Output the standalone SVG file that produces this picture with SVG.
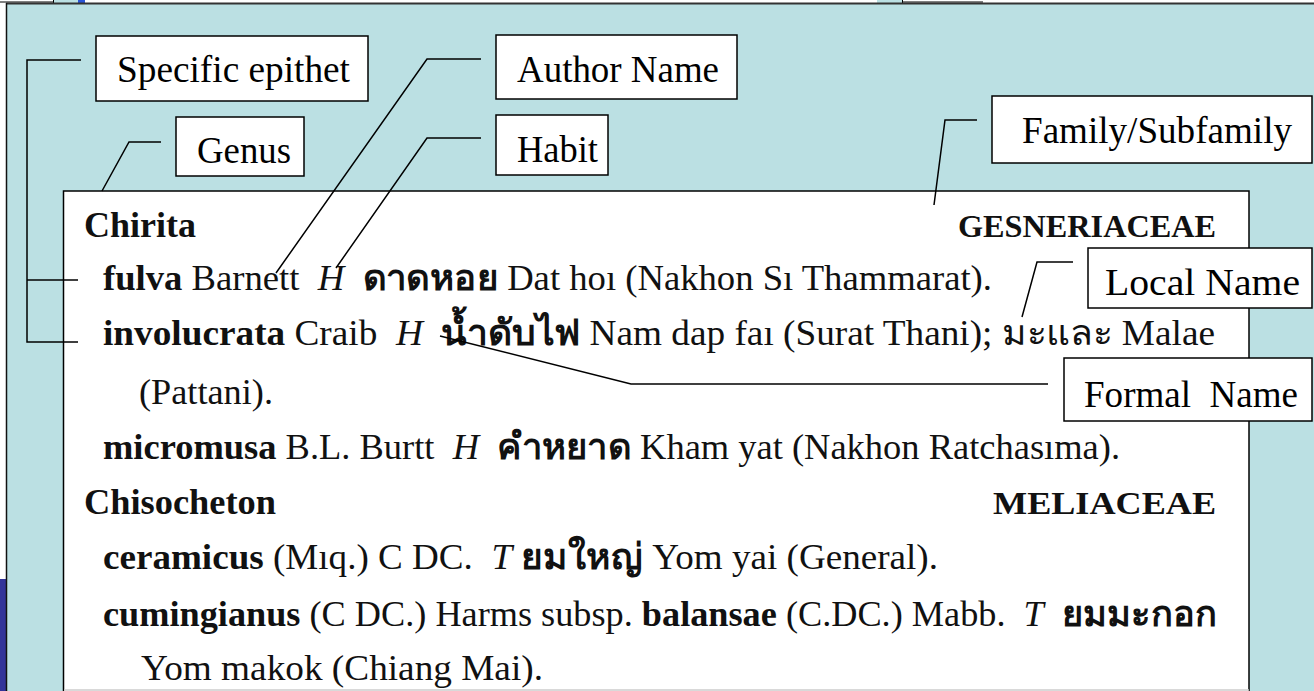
<svg xmlns="http://www.w3.org/2000/svg" width="1314" height="691" viewBox="0 0 1314 691">
  <defs>
    <style>
      .label-box { fill: #ffffff; stroke: #000000; stroke-width: 1.5; }
      .label { font-family: "Liberation Serif", "DejaVu Serif", serif; font-size: 38px; fill: #000000; }
      .body { font-family: "Liberation Serif", "DejaVu Serif", serif; font-size: 36px; fill: #111111; white-space: pre; }
      .fam { font-family: "Liberation Serif", "DejaVu Serif", serif; font-size: 32px; font-weight: bold; fill: #111111; }
      .b { font-weight: bold; }
      .i { font-style: italic; }
      .th { font-weight: bold; }
      .leader { fill: none; stroke: #000000; stroke-width: 1.5; }
    </style>
  </defs>

  <!-- page background and slide frame -->
  <rect x="0" y="0" width="1314" height="691" fill="#ffffff"/>
  <rect x="6" y="3" width="1308" height="688" fill="#bbe0e3"/>
  <rect x="0" y="579" width="6" height="112" fill="#333399"/>
  <!-- strip of window chrome along the top -->
  <rect x="54" y="0" width="24" height="3" fill="#bbe0e3"/>
  <rect x="78" y="0" width="7" height="3" fill="#2a55d8"/>
  <line x1="0" y1="2" x2="53" y2="2" stroke="#000" stroke-width="1"/>
  <line x1="53.5" y1="0" x2="53.5" y2="3" stroke="#000" stroke-width="1"/>
  <rect x="877" y="0" width="25" height="3" fill="#bbe0e3"/>
  <line x1="902.5" y1="0" x2="902.5" y2="3" stroke="#000" stroke-width="1"/>
  <line x1="903" y1="2" x2="983" y2="2" stroke="#000" stroke-width="1"/>
  <line x1="6" y1="3.5" x2="1314" y2="3.5" stroke="#333333" stroke-width="2"/>
  <line x1="6.5" y1="3" x2="6.5" y2="691" stroke="#111111" stroke-width="1.5"/>

  <!-- scanned checklist page -->
  <g id="page">
    <rect x="63.5" y="191" width="1185.5" height="510" fill="#ffffff" stroke="#000000" stroke-width="1.5"/>
    <line x1="64" y1="690" x2="1249" y2="690" stroke="#cccccc" stroke-width="1.5"/>
    <text class="body b" x="84" y="237" textLength="112" lengthAdjust="spacingAndGlyphs">Chirita</text>
    <text class="fam" x="958" y="237" textLength="258" lengthAdjust="spacingAndGlyphs">GESNERIACEAE</text>
    <text class="body" x="103" y="290" textLength="889" lengthAdjust="spacingAndGlyphs"><tspan class="b">fulva</tspan> Barnett  <tspan class="i">H</tspan>  <tspan class="th">ดาดหอย</tspan> Dat hoı (Nakhon Sı Thammarat).</text>
    <text class="body" x="103" y="345" textLength="1112" lengthAdjust="spacingAndGlyphs"><tspan class="b">involucrata</tspan> Craib  <tspan class="i">H</tspan>  <tspan class="th">น้ำดับไฟ</tspan> Nam dap faı (Surat Thani); มะและ Malae</text>
    <text class="body" x="139" y="404" textLength="134" lengthAdjust="spacingAndGlyphs">(Pattani).</text>
    <text class="body" x="103" y="459" textLength="1017" lengthAdjust="spacingAndGlyphs"><tspan class="b">micromusa</tspan> B.L. Burtt  <tspan class="i">H</tspan>  <tspan class="th">คำหยาด</tspan> Kham yat (Nakhon Ratchasıma).</text>
    <text class="body b" x="84" y="514" textLength="192" lengthAdjust="spacingAndGlyphs">Chisocheton</text>
    <text class="fam" x="993" y="514" textLength="223" lengthAdjust="spacingAndGlyphs">MELIACEAE</text>
    <text class="body" x="103" y="569" textLength="835" lengthAdjust="spacingAndGlyphs"><tspan class="b">ceramicus</tspan> (Mıq.) C DC.  <tspan class="i">T</tspan> <tspan class="th">ยมใหญ่</tspan> Yom yai (General).</text>
    <text class="body" x="103" y="626" textLength="1114" lengthAdjust="spacingAndGlyphs"><tspan class="b">cumingianus</tspan> (C DC.) Harms subsp. <tspan class="b">balansae</tspan> (C.DC.) Mabb.  <tspan class="i">T</tspan>  <tspan class="th">ยมมะกอก</tspan></text>
    <text class="body" x="141" y="680" textLength="402" lengthAdjust="spacingAndGlyphs">Yom makok (Chiang Mai).</text>
  </g>

  <!-- callout leader lines -->
  <g id="connectors">
    <polyline class="leader" points="81,60 27,60 27,342 78,342"/>
    <line class="leader" x1="27" y1="280" x2="78" y2="280"/>
    <polyline class="leader" points="481,59 427,59 276,273"/>
    <polyline class="leader" points="481,138 427,138 336,268"/>
    <polyline class="leader" points="161,142 129,142 102,191"/>
    <polyline class="leader" points="977,120 945,120 934,205"/>
    <polyline class="leader" points="1073,262 1037,262 1022,317"/>
    <polyline class="leader" points="440,336 631,384 1048,384"/>
  </g>

  <!-- callout labels -->
  <g id="specific-epithet">
    <rect class="label-box" x="96" y="36" width="272" height="65"/>
    <text class="label" x="117" y="82" textLength="233" lengthAdjust="spacingAndGlyphs">Specific epithet</text>
  </g>
  <g id="author-name">
    <rect class="label-box" x="496" y="35" width="241" height="64"/>
    <text class="label" x="517" y="82" textLength="202" lengthAdjust="spacingAndGlyphs">Author Name</text>
  </g>
  <g id="genus">
    <rect class="label-box" x="176" y="117" width="128" height="59"/>
    <text class="label" x="197" y="163" textLength="94" lengthAdjust="spacingAndGlyphs">Genus</text>
  </g>
  <g id="habit">
    <rect class="label-box" x="496" y="115" width="112" height="60"/>
    <text class="label" x="517" y="162" textLength="81" lengthAdjust="spacingAndGlyphs">Habit</text>
  </g>
  <g id="family-subfamily">
    <rect class="label-box" x="992" y="96" width="320" height="67"/>
    <text class="label" x="1022" y="143" textLength="270" lengthAdjust="spacingAndGlyphs">Family/Subfamily</text>
  </g>
  <g id="local-name">
    <rect class="label-box" x="1088" y="248" width="224" height="60"/>
    <text class="label" x="1105" y="295" textLength="195" lengthAdjust="spacingAndGlyphs">Local Name</text>
  </g>
  <g id="formal-name">
    <rect class="label-box" x="1064" y="358" width="248" height="63"/>
    <text class="label" x="1084" y="407" textLength="214" lengthAdjust="spacingAndGlyphs" style="white-space:pre">Formal  Name</text>
  </g>
</svg>
